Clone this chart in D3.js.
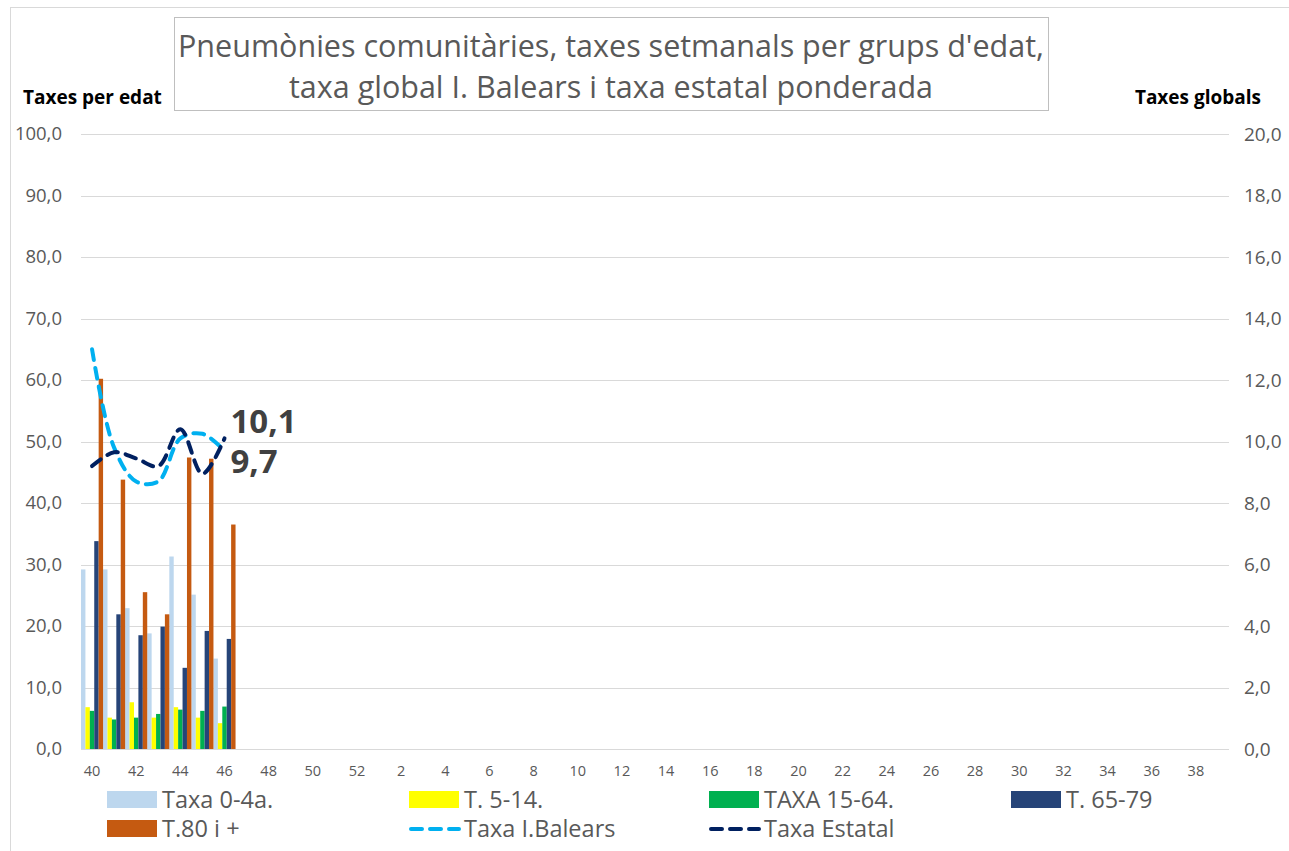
<!DOCTYPE html>
<html>
<head>
<meta charset="utf-8">
<script src="https://cdn.jsdelivr.net/npm/d3@7"></script>
<style>
	body { margin: 0; background: #fff; }
	svg { font-family: "Open Sans", sans-serif; }
</style>
</head>
<body>
<svg id="chart" width="1289" height="851"></svg>
<script>
// weeks of the season: 40..52 then 1..39
var weeks = d3.range(40, 53).concat(d3.range(1, 40));

// age group rates (left axis), only weeks 40-46 have data
var taxa04 = [29.2, 29.2, 22.9, 18.8, 31.3, 25.1, 14.7];
var t514 = [6.8, 5.1, 7.6, 5.1, 6.8, 5.1, 4.2];
var t1564 = [6.2, 4.8, 5.1, 5.7, 6.4, 6.2, 6.9];
var t6579 = [33.8, 21.9, 18.5, 19.9, 13.2, 19.2, 17.9];
var t80 = [60.2, 43.8, 25.5, 21.9, 47.4, 47.2, 36.5];

// global rates (right axis)
var balears = [13.0, 9.8, 8.7, 8.7, 10.1, 10.25, 9.7];
var estatal = [9.2, 9.65, 9.45, 9.2, 10.4, 8.95, 10.1];

var barNames = ["Taxa 0-4a.", "T. 5-14.", "TAXA 15-64.", "T. 65-79", "T.80 i +"];
var barValues = [taxa04, t514, t1564, t6579, t80];
var barColors = ["#bdd7ee", "#ffff00", "#00b050", "#264478", "#c55a11"];

var lineNames = ["Taxa I.Balears", "Taxa Estatal"];
var lineValues = [balears, estatal];
var lineColors = ["#00b0f0", "#002060"];

var leftTicks = d3.range(0, 101, 10);
var rightTicks = d3.range(0, 21, 2);

var ca = d3.formatLocale({ decimal: ",", thousands: ".", grouping: [3], currency: ["", "€"] });
var fmt = ca.format(".1f");

var svg = d3.select("#chart");

// chart frame
svg.append("rect")
	.attr("x", 10.5).attr("y", 7.5)
	.attr("width", 1300).attr("height", 900)
	.attr("fill", "none")
	.attr("stroke", "#d9d9d9");

var plot = { left: 81, right: 1229, top: 134, bottom: 749 };

var x = d3.scaleBand()
	.domain(weeks)
	.range([plot.left, plot.right])
	.padding(0);

var xSub = d3.scaleBand()
	.domain(d3.range(barNames.length))
	.range([0, x.bandwidth()])
	.padding(0);

var yL = d3.scaleLinear().domain([0, 100]).range([plot.bottom, plot.top]);
var yR = d3.scaleLinear().domain([0, 20]).range([plot.bottom, plot.top]);

// gridlines
svg.append("g")
	.selectAll("line")
	.data(leftTicks)
	.enter()
	.append("line")
	.attr("x1", plot.left).attr("x2", plot.right)
	.attr("y1", function (d) { return Math.round(yL(d)) + 0.5; })
	.attr("y2", function (d) { return Math.round(yL(d)) + 0.5; })
	.attr("stroke", "#d9d9d9")
	.attr("stroke-width", 1);

// left axis
var gL = svg.append("g")
	.attr("transform", "translate(" + (plot.left - 19) + ",0)")
	.call(d3.axisLeft(yL).tickValues(leftTicks).tickSize(0).tickPadding(0).tickFormat(fmt));
gL.select(".domain").remove();
gL.selectAll("text").attr("font-size", 18.5).attr("fill", "#595959").attr("font-family", "Open Sans");

// right axis
var gR = svg.append("g")
	.attr("transform", "translate(" + (plot.right + 15) + ",0)")
	.call(d3.axisRight(yR).tickValues(rightTicks).tickSize(0).tickPadding(0).tickFormat(fmt));
gR.select(".domain").remove();
gR.selectAll("text").attr("font-size", 19).attr("fill", "#595959").attr("font-family", "Open Sans");

// x axis, every second week
var gX = svg.append("g")
	.attr("transform", "translate(0," + plot.bottom + ")")
	.call(d3.axisBottom(x)
		.tickValues(weeks.filter(function (d, i) { return i % 2 == 0; }))
		.tickSize(0).tickPadding(17));
gX.select(".domain").remove();
gX.selectAll("text").attr("font-size", 14.5).attr("fill", "#595959").attr("font-family", "Open Sans");

// bars
for (var s = 0; s < barValues.length; s++) {
	svg.append("g")
		.attr("fill", barColors[s])
		.selectAll("rect")
		.data(barValues[s])
		.enter()
		.append("rect")
		.attr("x", function (d, i) { return x(weeks[i]) + xSub(s); })
		.attr("width", xSub.bandwidth())
		.attr("y", function (d) { return yL(d); })
		.attr("height", function (d) { return yL(0) - yL(d); });
}

// smoothed dashed lines
var line = d3.line()
	.x(function (d, i) { return x(weeks[i]) + x.bandwidth() / 2; })
	.y(function (d) { return yR(d); })
	.curve(d3.curveCatmullRom.alpha(0.5));

for (var k = 0; k < lineValues.length; k++) {
	svg.append("path")
		.datum(lineValues[k])
		.attr("d", line)
		.attr("fill", "none")
		.attr("stroke", lineColors[k])
		.attr("stroke-width", 4)
		.attr("stroke-linecap", "round")
		.attr("stroke-dasharray", "11,8");
}

// last value labels
var lastI = estatal.length - 1;
var labelX = x(weeks[lastI]) + x.bandwidth() / 2 + 6;
svg.append("text")
	.attr("x", labelX)
	.attr("y", yR(estatal[lastI]) - 5)
	.attr("font-size", 33).attr("font-weight", "bold").attr("fill", "#404040")
	.text(fmt(estatal[lastI]));
svg.append("text")
	.attr("x", labelX)
	.attr("y", yR(balears[lastI]) + 22)
	.attr("font-size", 33).attr("font-weight", "bold").attr("fill", "#404040")
	.text(fmt(balears[lastI]));

// title box
svg.append("rect")
	.attr("x", 174.5).attr("y", 17.5)
	.attr("width", 874).attr("height", 93)
	.attr("fill", "#fff")
	.attr("stroke", "#bfbfbf");
var titleLines = ["Pneumònies comunitàries, taxes setmanals per grups d'edat,",
	"taxa global I. Balears i taxa estatal ponderada"];
svg.append("g")
	.selectAll("text")
	.data(titleLines)
	.enter()
	.append("text")
	.attr("x", 611)
	.attr("y", function (d, i) { return 57 + i * 41; })
	.attr("text-anchor", "middle")
	.attr("font-size", 30.5)
	.attr("fill", "#595959")
	.text(function (d) { return d; });

// axis titles
svg.append("text")
	.attr("x", 23).attr("y", 104)
	.attr("font-size", 19).attr("font-weight", "bold").attr("fill", "#000")
	.text("Taxes per edat");
svg.append("text")
	.attr("x", 1261).attr("y", 104)
	.attr("text-anchor", "end")
	.attr("font-size", 19).attr("font-weight", "bold").attr("fill", "#000")
	.text("Taxes globals");

// legend
var legendItems = barNames.map(function (n, i) { return { name: n, color: barColors[i], type: "bar" }; })
	.concat(lineNames.map(function (n, i) { return { name: n, color: lineColors[i], type: "line" }; }));
var colX = [107, 409, 709, 1011];
var rowY = [800, 829];

var legend = svg.append("g")
	.selectAll("g")
	.data(legendItems)
	.enter()
	.append("g")
	.attr("transform", function (d, i) {
		return "translate(" + colX[i % 4] + "," + rowY[Math.floor(i / 4)] + ")";
	});

legend.filter(function (d) { return d.type == "bar"; })
	.append("rect")
	.attr("x", 0).attr("y", -9)
	.attr("width", 50).attr("height", 17)
	.attr("fill", function (d) { return d.color; });

legend.filter(function (d) { return d.type == "line"; })
	.append("line")
	.attr("x1", 2).attr("x2", 50)
	.attr("y1", 0).attr("y2", 0)
	.attr("stroke", function (d) { return d.color; })
	.attr("stroke-width", 4)
	.attr("stroke-linecap", "round")
	.attr("stroke-dasharray", "11,8");

legend.append("text")
	.attr("x", 55)
	.attr("y", 0)
	.attr("dy", "0.35em")
	.attr("font-size", 23.5)
	.attr("fill", "#595959")
	.text(function (d) { return d.name; });
</script>
</body>
</html>
